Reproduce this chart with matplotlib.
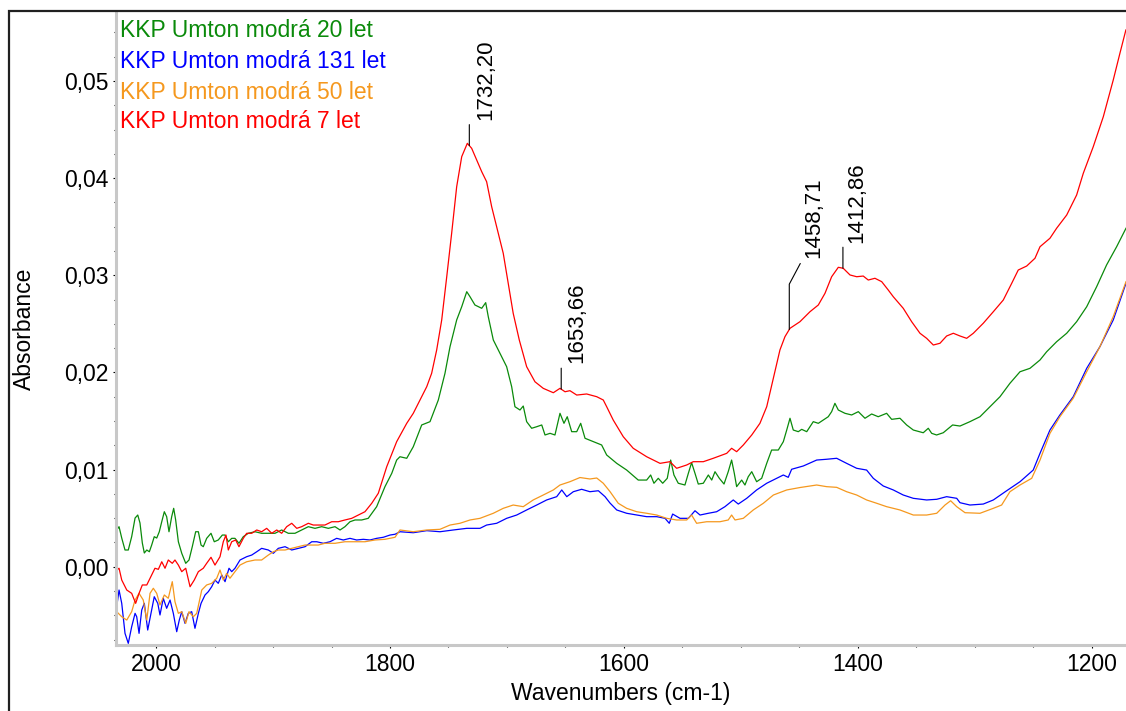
import numpy as np
import matplotlib
matplotlib.use("Agg")
import matplotlib.pyplot as plt
from matplotlib.ticker import MultipleLocator, FuncFormatter
from matplotlib.patches import Rectangle

plt.rcParams['font.family'] = ['Liberation Sans', 'DejaVu Sans']

# KKP Umton modrá 20 let (green)
wn_20 = [2033.6, 2031.6, 2029.3, 2026.5, 2023.7, 2020.8, 2017.9, 2015.6, 2013.7, 2011.7,
         2010.0, 2007.9, 2005.7, 2003.7, 2001.5, 1999.4, 1997.2, 1995.1, 1992.9, 1990.9,
         1988.9, 1986.6, 1984.9, 1983.2, 1980.9, 1978.0, 1974.6, 1971.8, 1969.0, 1966.1,
         1963.8, 1961.5, 1959.6, 1956.7, 1953.0, 1950.2, 1946.8, 1943.3, 1941.0, 1938.2,
         1935.3, 1932.5, 1929.1, 1925.4, 1921.1, 1915.4, 1909.7, 1904.0, 1898.3, 1892.6,
         1886.9, 1881.2, 1875.5, 1869.8, 1864.1, 1858.4, 1852.7, 1847.0, 1842.7, 1838.5,
         1834.2, 1829.9, 1824.2, 1818.6, 1811.4, 1804.3, 1798.5, 1794.3, 1791.5, 1785.7,
         1780.1, 1772.9, 1765.8, 1758.7, 1753.0, 1748.7, 1743.0, 1738.7, 1734.4, 1731.6,
         1727.4, 1721.6, 1718.2, 1716.0, 1711.7, 1706.0, 1700.3, 1696.0, 1693.2, 1688.9,
         1686.1, 1683.2, 1678.9, 1674.6, 1670.3, 1667.5, 1663.2, 1659.0, 1654.7, 1651.3,
         1648.5, 1644.7, 1640.4, 1637.0, 1633.3, 1626.2, 1619.1, 1614.8, 1606.2, 1597.7,
         1587.8, 1580.6, 1577.2, 1574.4, 1570.7, 1566.9, 1563.0, 1560.1, 1557.3, 1553.6,
         1547.9, 1545.0, 1542.2, 1539.3, 1536.5, 1532.2, 1527.9, 1525.0, 1522.2, 1518.5,
         1514.5, 1510.9, 1508.0, 1505.7, 1503.7, 1499.4, 1496.6, 1493.8, 1490.8, 1486.6,
         1482.3, 1478.0, 1473.8, 1468.1, 1463.8, 1460.9, 1458.1, 1455.3, 1451.0, 1448.1,
         1443.8, 1438.2, 1433.9, 1429.6, 1425.4, 1422.5, 1419.7, 1416.8, 1411.1, 1405.4,
         1399.7, 1394.0, 1388.3, 1382.7, 1375.5, 1371.2, 1364.1, 1358.4, 1352.7, 1344.2,
         1339.9, 1337.0, 1332.8, 1327.1, 1319.1, 1312.8, 1304.3, 1295.7, 1287.2, 1278.6,
         1270.1, 1261.5, 1253.0, 1244.4, 1238.7, 1230.2, 1221.6, 1213.1, 1204.5, 1196.0,
         1187.5, 1178.9, 1170.9]
abs_20 = [0.00378, 0.00412, 0.00295, 0.00172, 0.00172, 0.00309, 0.00501, 0.00532, 0.00450, 0.00244,
          0.00141, 0.00172, 0.00154, 0.00223, 0.00309, 0.00295, 0.00360, 0.00463, 0.00566, 0.00515,
          0.00360, 0.00515, 0.00601, 0.00481, 0.00257, 0.00138, 0.00035, 0.00069, 0.00206, 0.00360,
          0.00360, 0.00223, 0.00206, 0.00292, 0.00344, 0.00257, 0.00275, 0.00326, 0.00326, 0.00257,
          0.00292, 0.00292, 0.00241, 0.00309, 0.00344, 0.00360, 0.00344, 0.00344, 0.00344, 0.00378,
          0.00344, 0.00344, 0.00378, 0.00412, 0.00395, 0.00412, 0.00395, 0.00412, 0.00378, 0.00412,
          0.00463, 0.00481, 0.00481, 0.00498, 0.00618, 0.00824, 0.00961, 0.01098, 0.01132, 0.01116,
          0.01235, 0.01459, 0.01493, 0.01716, 0.01991, 0.02265, 0.02540, 0.02676, 0.02831, 0.02779,
          0.02694, 0.02660, 0.02718, 0.02574, 0.02334, 0.02197, 0.02059, 0.01853, 0.01647, 0.01613,
          0.01654, 0.01493, 0.01425, 0.01441, 0.01459, 0.01356, 0.01373, 0.01356, 0.01579, 0.01476,
          0.01544, 0.01390, 0.01390, 0.01476, 0.01322, 0.01287, 0.01253, 0.01150, 0.01064, 0.00995,
          0.00892, 0.00892, 0.00944, 0.00859, 0.00910, 0.00859, 0.00910, 0.01098, 0.00944, 0.00859,
          0.00841, 0.00961, 0.01071, 0.00961, 0.00851, 0.00859, 0.00944, 0.00892, 0.00978, 0.00910,
          0.00851, 0.00978, 0.01098, 0.00961, 0.00824, 0.00892, 0.00841, 0.00926, 0.00978, 0.00875,
          0.00910, 0.01064, 0.01201, 0.01201, 0.01287, 0.01407, 0.01528, 0.01407, 0.01390, 0.01414,
          0.01390, 0.01493, 0.01476, 0.01510, 0.01544, 0.01596, 0.01682, 0.01613, 0.01579, 0.01562,
          0.01596, 0.01528, 0.01572, 0.01544, 0.01579, 0.01517, 0.01528, 0.01459, 0.01407, 0.01379,
          0.01425, 0.01373, 0.01356, 0.01379, 0.01459, 0.01448, 0.01493, 0.01544, 0.01647, 0.01750,
          0.01888, 0.02007, 0.02042, 0.02128, 0.02213, 0.02316, 0.02403, 0.02522, 0.02676, 0.02882,
          0.03106, 0.03294, 0.03484]

# KKP Umton modrá 131 let (blue)
wn_131 = [2033.6, 2031.6, 2029.3, 2026.5, 2023.7, 2020.8, 2017.9, 2016.5, 2014.5, 2012.2,
          2010.0, 2007.1, 2004.3, 2001.5, 1998.5, 1996.6, 1993.8, 1990.9, 1988.0, 1985.2,
          1982.3, 1980.1, 1978.0, 1975.2, 1972.4, 1969.5, 1966.7, 1963.8, 1961.5, 1958.1,
          1955.3, 1952.4, 1949.6, 1946.8, 1943.8, 1941.0, 1937.6, 1935.3, 1932.5, 1928.2,
          1922.5, 1918.2, 1913.9, 1909.7, 1904.0, 1899.7, 1895.5, 1889.7, 1884.0, 1878.4,
          1872.6, 1866.9, 1862.6, 1857.0, 1851.3, 1845.6, 1839.9, 1834.2, 1828.5, 1822.8,
          1817.1, 1811.4, 1805.7, 1800.0, 1795.7, 1791.5, 1780.1, 1768.6, 1757.3, 1745.9,
          1734.4, 1723.1, 1717.4, 1708.8, 1700.3, 1691.7, 1683.2, 1674.6, 1666.1, 1657.5,
          1653.2, 1648.9, 1643.3, 1636.2, 1629.1, 1621.9, 1616.2, 1612.0, 1606.2, 1597.7,
          1589.1, 1580.6, 1572.0, 1564.9, 1561.3, 1558.4, 1552.1, 1545.0, 1539.3, 1535.0,
          1527.9, 1520.8, 1513.7, 1506.6, 1502.3, 1495.1, 1486.6, 1478.0, 1469.5, 1463.8,
          1459.6, 1456.7, 1446.7, 1435.3, 1426.8, 1418.2, 1409.7, 1401.1, 1392.6, 1386.9,
          1378.4, 1369.8, 1361.3, 1352.7, 1341.3, 1332.7, 1324.2, 1315.6, 1312.8, 1304.3,
          1292.9, 1284.3, 1272.9, 1261.5, 1250.2, 1244.4, 1235.9, 1227.4, 1216.0, 1204.5,
          1193.2, 1181.8, 1170.9]
abs_131 = [-0.00412, -0.00240, -0.00377, -0.00686, -0.00789, -0.00618, -0.00480, -0.00515, -0.00686, -0.00446,
           -0.00377, -0.00652, -0.00480, -0.00309, -0.00377, -0.00497, -0.00325, -0.00428, -0.00343, -0.00480,
           -0.00669, -0.00549, -0.00463, -0.00583, -0.00480, -0.00463, -0.00634, -0.00480, -0.00377, -0.00291,
           -0.00257, -0.00206, -0.00137, -0.00171, -0.00085, -0.00154, -0.00016, -0.00051, -0.00016, 0.00069,
           0.00103, 0.00120, 0.00154, 0.00189, 0.00172, 0.00138, 0.00189, 0.00206, 0.00172, 0.00189,
           0.00206, 0.00257, 0.00257, 0.00241, 0.00257, 0.00292, 0.00275, 0.00292, 0.00275, 0.00282,
           0.00275, 0.00292, 0.00303, 0.00326, 0.00334, 0.00360, 0.00350, 0.00371, 0.00360, 0.00378,
           0.00395, 0.00395, 0.00429, 0.00447, 0.00498, 0.00532, 0.00584, 0.00635, 0.00687, 0.00721,
           0.00790, 0.00721, 0.00772, 0.00797, 0.00772, 0.00782, 0.00721, 0.00656, 0.00584, 0.00550,
           0.00532, 0.00515, 0.00515, 0.00498, 0.00447, 0.00542, 0.00498, 0.00498, 0.00576, 0.00532,
           0.00550, 0.00566, 0.00618, 0.00687, 0.00645, 0.00704, 0.00790, 0.00859, 0.00910, 0.00944,
           0.00920, 0.01003, 0.01037, 0.01098, 0.01106, 0.01116, 0.01064, 0.01013, 0.00995, 0.00910,
           0.00831, 0.00790, 0.00738, 0.00704, 0.00687, 0.00694, 0.00721, 0.00704, 0.00659, 0.00635,
           0.00645, 0.00687, 0.00782, 0.00875, 0.00995, 0.01167, 0.01407, 0.01562, 0.01750, 0.02042,
           0.02265, 0.02540, 0.02917]

# KKP Umton modrá 50 let (orange)
wn_50 = [2033.6, 2029.3, 2025.0, 2020.8, 2017.9, 2014.5, 2010.9, 2007.9, 2005.1, 2002.3,
         1999.4, 1996.6, 1992.9, 1989.5, 1986.1, 1983.8, 1980.9, 1978.0, 1974.6, 1971.8,
         1968.1, 1965.2, 1960.9, 1956.7, 1952.4, 1948.1, 1945.3, 1942.5, 1939.6, 1936.8,
         1932.5, 1928.2, 1922.5, 1915.4, 1909.7, 1904.0, 1899.7, 1895.5, 1889.7, 1884.0,
         1878.4, 1872.6, 1866.9, 1861.3, 1855.6, 1847.0, 1838.5, 1829.9, 1821.4, 1812.8,
         1804.3, 1795.7, 1791.5, 1780.1, 1768.6, 1757.3, 1748.7, 1740.2, 1731.6, 1723.1,
         1711.7, 1703.2, 1694.7, 1686.1, 1677.6, 1669.0, 1660.4, 1654.7, 1646.2, 1637.6,
         1629.1, 1623.3, 1617.7, 1612.0, 1604.9, 1597.7, 1589.1, 1580.6, 1572.0, 1563.5,
         1555.0, 1546.4, 1542.2, 1537.9, 1529.3, 1518.0, 1510.9, 1508.0, 1505.1, 1498.0,
         1489.5, 1480.9, 1472.3, 1460.9, 1449.6, 1435.3, 1426.8, 1418.2, 1409.7, 1401.1,
         1392.6, 1384.0, 1375.5, 1364.1, 1352.7, 1341.3, 1332.7, 1325.6, 1320.8, 1315.6,
         1308.5, 1295.7, 1284.3, 1277.2, 1270.1, 1261.5, 1251.5, 1244.4, 1235.9, 1227.4,
         1216.0, 1204.5, 1193.2, 1181.8, 1170.9]
abs_50 = [-0.00463, -0.00515, -0.00549, -0.00463, -0.00343, -0.00274, -0.00343, -0.00549, -0.00274, -0.00222,
          -0.00274, -0.00394, -0.00291, -0.00325, -0.00154, -0.00360, -0.00480, -0.00463, -0.00583, -0.00463,
          -0.00515, -0.00480, -0.00240, -0.00188, -0.00171, -0.00119, -0.00034, -0.00137, -0.00068, -0.00119,
          -0.00051, 0.00017, 0.00051, 0.00069, 0.00069, 0.00120, 0.00154, 0.00172, 0.00172, 0.00189,
          0.00206, 0.00223, 0.00223, 0.00223, 0.00241, 0.00241, 0.00257, 0.00257, 0.00257, 0.00275,
          0.00282, 0.00303, 0.00378, 0.00360, 0.00378, 0.00385, 0.00429, 0.00447, 0.00481, 0.00498,
          0.00550, 0.00601, 0.00635, 0.00618, 0.00687, 0.00738, 0.00790, 0.00841, 0.00875, 0.00918,
          0.00903, 0.00913, 0.00859, 0.00774, 0.00653, 0.00601, 0.00566, 0.00550, 0.00532, 0.00498,
          0.00481, 0.00481, 0.00532, 0.00447, 0.00463, 0.00463, 0.00481, 0.00532, 0.00481, 0.00498,
          0.00584, 0.00653, 0.00738, 0.00790, 0.00815, 0.00841, 0.00824, 0.00817, 0.00772, 0.00738,
          0.00687, 0.00653, 0.00618, 0.00584, 0.00532, 0.00532, 0.00550, 0.00635, 0.00679, 0.00618,
          0.00556, 0.00550, 0.00601, 0.00635, 0.00772, 0.00841, 0.00910, 0.01098, 0.01373, 0.01544,
          0.01734, 0.02007, 0.02265, 0.02574, 0.02934]

# KKP Umton modrá 7 let (red)
wn_7 = [2033.6, 2031.6, 2029.3, 2025.0, 2020.8, 2017.4, 2014.5, 2011.7, 2007.9, 2005.1,
        2000.9, 1998.0, 1995.1, 1992.3, 1989.5, 1986.1, 1983.8, 1980.9, 1978.0, 1974.6,
        1970.9, 1967.3, 1963.8, 1959.6, 1956.7, 1953.0, 1949.6, 1945.3, 1942.5, 1940.2,
        1938.2, 1935.3, 1931.9, 1929.1, 1925.4, 1922.5, 1918.2, 1913.9, 1909.7, 1905.4,
        1901.1, 1896.8, 1892.6, 1888.3, 1884.0, 1879.7, 1875.5, 1869.8, 1865.6, 1861.3,
        1855.6, 1849.8, 1844.2, 1838.5, 1832.7, 1827.1, 1821.4, 1815.6, 1810.0, 1802.8,
        1794.3, 1785.7, 1780.1, 1774.4, 1768.6, 1764.4, 1760.1, 1755.8, 1751.5, 1747.3,
        1743.0, 1738.7, 1733.9, 1730.2, 1725.9, 1721.6, 1717.4, 1713.1, 1707.5, 1703.2,
        1698.9, 1694.7, 1689.5, 1683.2, 1676.1, 1669.0, 1660.4, 1654.7, 1650.4, 1646.2,
        1640.4, 1631.9, 1623.3, 1617.7, 1614.8, 1609.2, 1600.6, 1592.1, 1580.6, 1569.2,
        1560.7, 1555.0, 1546.4, 1540.8, 1532.2, 1523.7, 1512.2, 1508.0, 1503.7, 1498.0,
        1490.8, 1483.8, 1478.0, 1472.3, 1466.7, 1462.4, 1458.1, 1449.6, 1441.0, 1433.9,
        1428.2, 1422.5, 1416.8, 1412.6, 1406.8, 1401.1, 1395.5, 1391.2, 1385.5, 1379.7,
        1374.1, 1369.8, 1361.3, 1354.1, 1347.0, 1341.3, 1335.6, 1329.9, 1324.2, 1318.5,
        1312.8, 1307.1, 1301.4, 1292.9, 1284.3, 1275.8, 1268.6, 1263.0, 1255.8, 1248.7,
        1244.4, 1235.9, 1230.2, 1221.6, 1213.1, 1207.4, 1198.9, 1190.3, 1181.8, 1176.1,
        1171.0]
abs_7 = [-0.00034, -0.00016, -0.00137, -0.00240, -0.00274, -0.00377, -0.00274, -0.00188, -0.00188, -0.00119,
         -0.00016, -0.00027, 0.00051, -0.00016, 0.00069, 0.00035, 0.00069, 0.00017, -0.00051, -0.00016,
         -0.00206, -0.00137, -0.00051, -0.00016, 0.00035, 0.00097, 0.00017, 0.00103, 0.00257, 0.00326,
         0.00172, 0.00257, 0.00275, 0.00206, 0.00292, 0.00344, 0.00344, 0.00378, 0.00360, 0.00395,
         0.00344, 0.00378, 0.00344, 0.00412, 0.00447, 0.00395, 0.00412, 0.00447, 0.00429, 0.00429,
         0.00429, 0.00463, 0.00463, 0.00481, 0.00498, 0.00532, 0.00566, 0.00653, 0.00756, 0.01029,
         0.01287, 0.01476, 0.01579, 0.01716, 0.01853, 0.01991, 0.02231, 0.02540, 0.02985, 0.03432,
         0.03912, 0.04221, 0.04358, 0.04307, 0.04187, 0.04066, 0.03963, 0.03706, 0.03432, 0.03226,
         0.02917, 0.02609, 0.02334, 0.02059, 0.01904, 0.01836, 0.01791, 0.01836, 0.01801, 0.01812,
         0.01767, 0.01778, 0.01750, 0.01716, 0.01647, 0.01510, 0.01338, 0.01219, 0.01132, 0.01064,
         0.01081, 0.01013, 0.01047, 0.01081, 0.01081, 0.01116, 0.01167, 0.01219, 0.01184, 0.01253,
         0.01356, 0.01476, 0.01647, 0.01943, 0.02231, 0.02368, 0.02454, 0.02522, 0.02625, 0.02694,
         0.02814, 0.02985, 0.03082, 0.03072, 0.03003, 0.02985, 0.02992, 0.02951, 0.02969, 0.02934,
         0.02848, 0.02779, 0.02660, 0.02522, 0.02403, 0.02351, 0.02282, 0.02300, 0.02375, 0.02403,
         0.02375, 0.02351, 0.02403, 0.02506, 0.02625, 0.02745, 0.02917, 0.03054, 0.03095, 0.03175,
         0.03294, 0.03381, 0.03484, 0.03620, 0.03826, 0.04050, 0.04323, 0.04632, 0.05010, 0.05285,
         0.05525]

labels = ["KKP Umton modrá 20 let", "KKP Umton modrá 131 let",
          "KKP Umton modrá 50 let", "KKP Umton modrá 7 let"]
colors = ["#0a8a0a", "#0000ff", "#f5981e", "#ff0000"]
series = [(wn_20, abs_20), (wn_131, abs_131), (wn_50, abs_50), (wn_7, abs_7)]

peak_wn = [1732.20, 1653.66, 1458.71, 1412.86]
peak_lbl = ["1732,20", "1653,66", "1458,71", "1412,86"]

fig = plt.figure(figsize=(11.26, 7.11), dpi=100)
ax = fig.add_axes([116 / 1126, 65.7 / 711, 1010 / 1126, 633.3 / 711])

for (x, y), c, lab in zip(series, colors, labels):
    ax.plot(x, y, color=c, lw=0.9, label=lab)

ax.set_xlim(2034.2, 1170.9)
ax.set_ylim(-0.00809, 0.0571)

ax.xaxis.set_major_locator(MultipleLocator(200))
ax.xaxis.set_minor_locator(MultipleLocator(50))
ax.yaxis.set_major_locator(MultipleLocator(0.01))
ax.yaxis.set_minor_locator(MultipleLocator(0.0025))
ax.yaxis.set_major_formatter(FuncFormatter(lambda v, p: f"{v:.2f}".replace(".", ",")))

for s in ["top", "right"]:
    ax.spines[s].set_visible(False)
for s in ["left", "bottom"]:
    ax.spines[s].set_color("#c8c8c8")
    ax.spines[s].set_linewidth(2.2)

ax.tick_params(which="major", direction="out", length=2.5, width=0.8, color="black",
               labelsize=16.5, pad=3)
ax.tick_params(which="minor", direction="out", length=1.2, width=0.8, color="black")

ax.set_xlabel("Wavenumbers (cm-1)", fontsize=16.5)
ax.set_ylabel("Absorbance", fontsize=16.5)
ax.xaxis.set_label_coords(0.5, -0.058)
ax.yaxis.set_label_coords(-0.079, 0.5)

# legend as coloured text
legend_y = [0.961, 0.9111, 0.8627, 0.8164]
for lab, c, yy in zip(labels, colors, legend_y):
    ax.text(0.004, yy, lab, color=c, fontsize=16.5, transform=ax.transAxes,
            ha="left", va="baseline")

# peak annotations on the red spectrum
wr = np.array(wn_7)[::-1]
ar = np.array(abs_7)[::-1]
text_off = [(16, 26), (16, 26), (24, 71), (14, 25)]
for p, lbl, (dx, dy) in zip(peak_wn, peak_lbl, text_off):
    a = np.interp(p, wr, ar)
    if lbl == "1458,71":
        ax.annotate("", xy=(p, a), xytext=(11, 66), textcoords="offset pixels",
                    arrowprops=dict(arrowstyle="-", color="black", lw=0.8, shrinkA=0, shrinkB=0,
                                    connectionstyle="angle,angleA=62,angleB=90,rad=0"))
    else:
        ax.annotate("", xy=(p, a), xytext=(0, 21), textcoords="offset pixels",
                    arrowprops=dict(arrowstyle="-", color="black", lw=0.8, shrinkA=0, shrinkB=0))
    ax.annotate(lbl, xy=(p, a), xytext=(dx, dy), textcoords="offset pixels",
                rotation=90, ha="center", va="bottom", fontsize=16)

# outer frame
fig.patches.append(Rectangle((9 / 1126, -0.2), 1.2, 1.2 - 11 / 711, transform=fig.transFigure,
                             fill=False, edgecolor="#202020", lw=1.6))

fig.savefig("out.png", dpi=100)
